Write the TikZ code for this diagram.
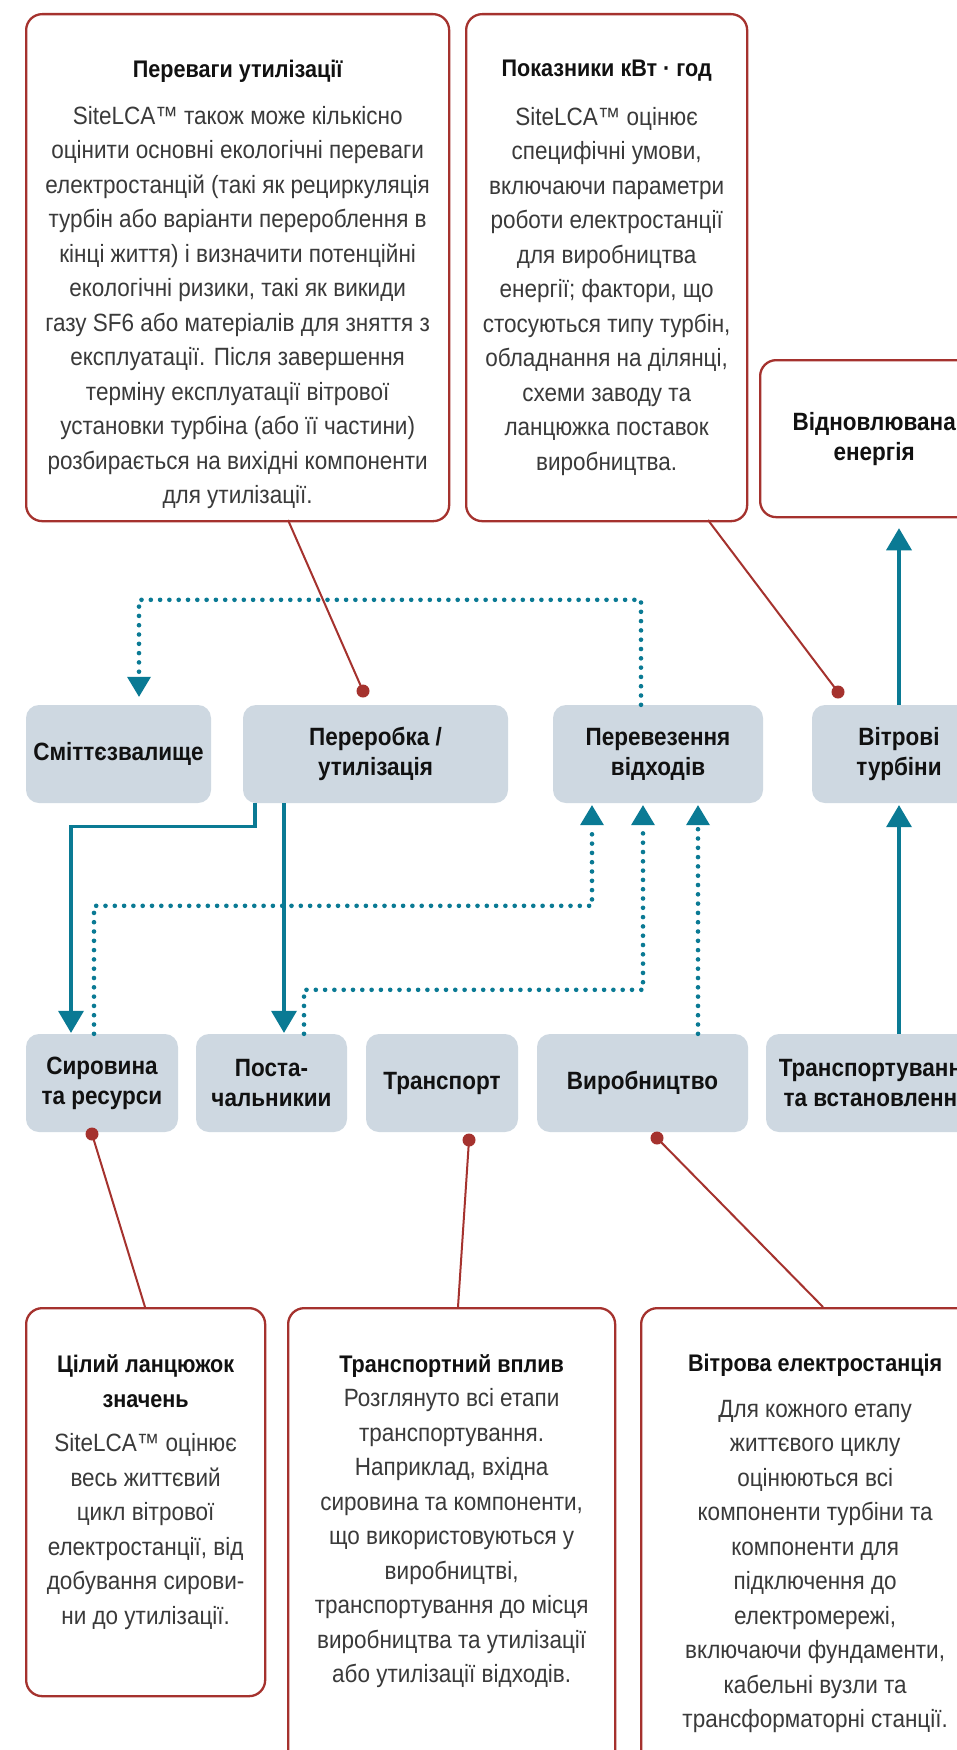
\documentclass[tikz,border=0pt]{standalone}
\usepackage{fontspec}
\setmainfont{Liberation Sans}[FakeStretch=0.9]
\usetikzlibrary{arrows.meta}

\definecolor{flowteal}{HTML}{0A7A94}
\definecolor{calloutred}{HTML}{A5322E}
\definecolor{stagegrey}{HTML}{CED8E1}
\definecolor{bodyink}{HTML}{3A3A3A}
\definecolor{titleink}{HTML}{111111}

\newcommand{\cardtitle}{\bfseries\fontsize{24}{35}\selectfont\color{titleink}}
\newcommand{\cardbody}{\fontsize{25}{34.5}\selectfont\color{bodyink}}

\tikzset{
  stage/.style={rectangle, rounded corners=13pt, fill=stagegrey, text=titleink,
    font=\bfseries\fontsize{25}{30}\selectfont, align=center, minimum height=98pt},
  callout/.style={rectangle, rounded corners=16pt, draw=calloutred, line width=2.3pt,
    inner sep=0pt, anchor=north west},
  flow/.style={draw=flowteal, line width=3.3pt,
    -{Triangle[width=26pt,length=22pt,line width=0pt]}},
  waste/.style={draw=flowteal, line width=4.6pt, line cap=round,
    dash pattern=on 0pt off 9.3pt,
    -{Triangle[width=24pt,length=20pt,line width=0pt]}},
  pointer/.style={draw=calloutred, line width=2pt},
  pindot/.style={circle, fill=calloutred, inner sep=0pt, minimum size=13pt},
}

\begin{document}
\begin{tikzpicture}[x=1pt, y=-1pt]
\clip (0,0) rectangle (957,1750);
\fill[white] (0,0) rectangle (957,1750);

% top callouts
\node[callout] (benefits) at (25,13) {\parbox[t][507pt][t]{423pt}{\centering\vspace*{46pt}
  {\cardtitle Переваги утилізації\par}\vspace{12pt}
  {\cardbody SiteLCA™ також може кількісно\\
  оцінити основні екологічні переваги\\
  електростанцій (такі як рециркуляція\\
  турбін або варіанти перероблення в\\
  кінці життя) і визначити потенційні\\
  екологічні ризики, такі як викиди\\
  газу SF6 або матеріалів для зняття з\\
  експлуатації. Після завершення\\
  терміну експлуатації вітрової\\
  установки турбіна (або її частини)\\
  розбирається на вихідні компоненти\\
  для утилізації.\par}}};
\node[callout] (kwh) at (465,13) {\parbox[t][507pt][t]{281pt}{\centering\vspace*{46pt}
  {\cardtitle Показники кВт · год\par}\vspace{14pt}
  {\cardbody SiteLCA™ оцінює\\
  специфічні умови,\\
  включаючи параметри\\
  роботи електростанції\\
  для виробництва\\
  енергії; фактори, що\\
  стосуються типу турбін,\\
  обладнання на ділянці,\\
  схеми заводу та\\
  ланцюжка поставок\\
  виробництва.\par}}};
\node[callout, minimum width=228pt, minimum height=157pt, align=center,
  font=\bfseries\fontsize{25}{30}\selectfont, text=titleink] (renew) at (759,359) {Відновлювана\\енергія};

% stages
\node[stage, minimum width=185pt] (landfill) at (118.5,754) {Сміттєзвалище};
\node[stage, minimum width=265pt] (recycle) at (375.5,754) {Переробка /\\утилізація};
\node[stage, minimum width=210pt] (wastetr) at (658,754) {Перевезення\\відходів};
\node[stage, minimum width=174pt] (turbines) at (899,754) {Вітрові\\турбіни};

\node[stage, minimum width=152pt] (rawmat) at (102,1083) {Сировина\\та ресурси};
\node[stage, minimum width=151pt] (suppliers) at (271.5,1083) {Поста-\\чальникии};
\node[stage, minimum width=152pt] (transport) at (442,1083) {Транспорт};
\node[stage, minimum width=211pt] (production) at (642.5,1083) {Виробництво};
\node[stage, minimum width=222pt] (install) at (877,1083) {Транспортування\\та встановлення};

% bottom callouts
\node[callout] (chain) at (25,1307) {\parbox[t][388pt][t]{239pt}{\centering\vspace*{46pt}
  {\cardtitle Цілий ланцюжок\\значень\par}\vspace{10pt}
  {\cardbody SiteLCA™ оцінює\\
  весь життєвий\\
  цикл вітрової\\
  електростанції, від\\
  добування сирови-\\
  ни до утилізації.\par}}};
\node[callout] (impact) at (287,1307) {\parbox[t][460pt][t]{327pt}{\centering\vspace*{46pt}
  {\cardtitle Транспортний вплив\par}
  {\cardbody Розглянуто всі етапи\\
  транспортування.\\
  Наприклад, вхідна\\
  сировина та компоненти,\\
  що використовуються у\\
  виробництві,\\
  транспортування до місця\\
  виробництва та утилізації\\
  або утилізації відходів.\par}}};
\node[callout] (windfarm) at (640,1307) {\parbox[t][480pt][t]{348pt}{\centering\vspace*{46pt}
  {\cardtitle Вітрова електростанція\par}\vspace{11pt}
  {\cardbody Для кожного етапу\\
  життєвого циклу\\
  оцінюються всі\\
  компоненти турбіни та\\
  компоненти для\\
  підключення до\\
  електромережі,\\
  включаючи фундаменти,\\
  кабельні вузли та\\
  трансформаторні станції.\par}}};

% pointers
\coordinate (b1) at (288,520);
\coordinate (k1) at (708,520);
\coordinate (c1) at (145,1307);
\coordinate (i1) at (458,1307);
\coordinate (w1) at (823,1307);
\node[pindot] (p1) at (363,691) {};
\node[pindot] (p2) at (838,692) {};
\node[pindot] (p3) at (92,1134) {};
\node[pindot] (p4) at (469,1140) {};
\node[pindot] (p5) at (657,1138) {};
\draw[pointer] (b1) -- (p1.center);
\draw[pointer] (k1) -- (p2.center);
\draw[pointer] (p3.center) -- (c1);
\draw[pointer] (p4.center) -- (i1);
\draw[pointer] (p5.center) -- (w1);

% flows
\draw[waste, shorten >=8pt] ([xshift=-17pt]wastetr.north) -- ++(0,-105) -| ([xshift=20.5pt]landfill.north);
\draw[flow, shorten >=1pt] ([xshift=-120.5pt]recycle.south) -- ++(0,23) -| ([xshift=-31pt]rawmat.north);
\draw[flow, shorten >=1pt] ([xshift=-91.5pt]recycle.south) -- ([xshift=12.5pt]suppliers.north);
\draw[waste, shorten >=2pt] ([xshift=-8pt]rawmat.north) -- ++(0,-128) -| ([xshift=-66pt]wastetr.south);
\draw[waste, shorten >=2pt] ([xshift=32.5pt]suppliers.north) -- ++(0,-44) -| ([xshift=-15pt]wastetr.south);
\draw[waste, shorten >=2pt] ([xshift=55.5pt]production.north) -- ([xshift=40pt]wastetr.south);
\draw[flow, shorten >=2pt] ([xshift=22pt]install.north) -- ([xshift=22pt]install.north |- turbines.south);
\draw[flow, shorten >=10pt] (turbines.north) -- (turbines.north |- renew.south);
\end{tikzpicture}
\end{document}
